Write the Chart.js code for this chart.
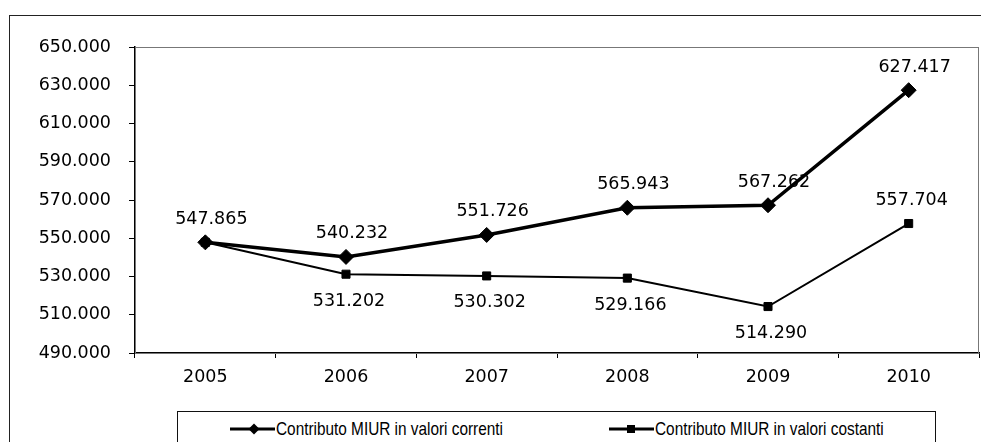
<!DOCTYPE html>
<html lang="it">
<head>
<meta charset="utf-8">
<title>Contributo MIUR 2005-2010</title>
<script src="https://cdn.jsdelivr.net/npm/chart.js@4/dist/chart.umd.min.js"></script>
<style>
  html, body { margin: 0; padding: 0; background: #fff; }
  body { width: 981px; height: 442px; position: relative; overflow: hidden; }
  #cornice {
    position: absolute; left: 9px; top: 15px; width: 1000px; height: 500px;
    border-top: 1.5px solid #222; border-left: 1.5px solid #222;
  }
  #grafico { position: absolute; left: 0; top: 0; }
  #legenda {
    position: absolute; left: 177px; top: 411px; width: 757px; height: 60px;
    border: 1px solid #111; background: #fff;
    font-family: 'Liberation Sans Narrow', 'Arial Narrow', 'Liberation Sans', Arial, sans-serif;
    font-size: 18.5px; color: #000;
  }
  .voce { position: absolute; top: 6px; height: 22px; display: flex; align-items: center; white-space: nowrap; }
  .voce span { display: inline-block; transform: scaleX(0.83); transform-origin: 0 50%; margin-left: 1px; }
</style>
</head>
<body>
<div id="cornice"></div>
<canvas id="grafico" width="981" height="442"></canvas>
<div id="legenda">
  <div class="voce" style="left:52px">
    <svg width="45" height="16"><line x1="0" y1="8" x2="45" y2="8" stroke="#000" stroke-width="3"/><polygon points="24,2.5 29.5,8 24,13.5 18.5,8" fill="#000"/></svg>
    <span id="leg0"></span>
  </div>
  <div class="voce" style="left:431px">
    <svg width="45" height="16"><line x1="0" y1="8" x2="45" y2="8" stroke="#000" stroke-width="3"/><rect x="18" y="4" width="8" height="8" fill="#000"/></svg>
    <span id="leg1"></span>
  </div>
</div>
<script>
// dati
var anni = ['2005', '2006', '2007', '2008', '2009', '2010'];
var valoriCorrenti = [547865, 540232, 551726, 565943, 567262, 627417];
var valoriCostanti = [547865, 531202, 530302, 529166, 514290, 557704];
var nomiSerie = ['Contributo MIUR in valori correnti', 'Contributo MIUR in valori costanti'];
// posizione etichette: 'su', 'giu' o null (nascosta)
var posCorrenti = ['su', 'su', 'su', 'su', 'su', 'su'];
var posCostanti = [null, 'giu', 'giu', 'giu', 'giu', 'su'];
var asseMin = 490000, asseMax = 650000, assePasso = 20000;

var FONT = "'DejaVu Sans', Verdana, sans-serif";

function formatta(v) {
    return String(Math.round(v)).replace(/\B(?=(\d{3})+(?!\d))/g, '.');
}

document.getElementById('leg0').textContent = nomiSerie[0];
document.getElementById('leg1').textContent = nomiSerie[1];

// bordo grigio dell'area del tracciato
var bordoArea = {
    id: 'bordoArea',
    beforeDatasetsDraw: function (chart) {
        var a = chart.chartArea, ctx = chart.ctx;
        ctx.save();
        ctx.strokeStyle = '#777';
        ctx.lineWidth = 1;
        ctx.strokeRect(a.left + 0.5, a.top + 0.5, a.right - a.left - 1, a.bottom - a.top);
        ctx.restore();
    }
};

// etichette dei valori
var etichette = {
    id: 'etichette',
    afterDatasetsDraw: function (chart) {
        var ctx = chart.ctx;
        var posizioni = [posCorrenti, posCostanti];
        var spostaX = [6, 3];
        ctx.save();
        ctx.font = '17.5px ' + FONT;
        ctx.fillStyle = '#000';
        ctx.textAlign = 'center';
        ctx.textBaseline = 'middle';
        chart.data.datasets.forEach(function (ds, di) {
            var meta = chart.getDatasetMeta(di);
            meta.data.forEach(function (pt, i) {
                var p = posizioni[di][i];
                if (!p) return;
                var dy = p === 'su' ? -23 : 27;
                ctx.fillText(formatta(ds.data[i]), pt.x + spostaX[di], pt.y + dy);
            });
        });
        ctx.restore();
    }
};

new Chart(document.getElementById('grafico'), {
    type: 'line',
    data: {
        labels: anni,
        datasets: [{
            label: nomiSerie[0],
            data: valoriCorrenti,
            borderColor: '#000',
            backgroundColor: '#000',
            borderWidth: 3.5,
            pointStyle: 'rectRot',
            pointRadius: 7.5,
            pointBorderWidth: 1,
            tension: 0
        }, {
            label: nomiSerie[1],
            data: valoriCostanti,
            borderColor: '#000',
            backgroundColor: '#000',
            borderWidth: 2,
            pointStyle: 'rect',
            pointRadius: 5.7,
            pointBorderWidth: 1,
            tension: 0
        }]
    },
    options: {
        responsive: false,
        animation: false,
        layout: { autoPadding: false, padding: { top: 47, right: 2, left: 0, bottom: 0 } },
        plugins: {
            legend: { display: false },
            tooltip: { enabled: false }
        },
        scales: {
            x: {
                offset: true,
                grid: { offset: true, drawOnChartArea: false, tickLength: 5, color: '#000' },
                border: { color: '#000', width: 1.5 },
                ticks: { color: '#000', padding: 9, font: { family: FONT, size: 17.5 } },
                afterFit: function (s) { s.height = 89; s.paddingLeft = 0; s.paddingRight = 0; }
            },
            y: {
                min: asseMin,
                max: asseMax,
                grid: { drawOnChartArea: false, tickLength: 6, color: '#000' },
                border: { color: '#000', width: 1.5 },
                ticks: {
                    stepSize: assePasso,
                    color: '#000',
                    padding: 18,
                    font: { family: FONT, size: 17.5 },
                    callback: function (v) { return formatta(v); }
                },
                afterFit: function (s) { s.width = 135; s.paddingTop = 0; s.paddingBottom = 0; }
            }
        }
    },
    plugins: [bordoArea, etichette]
});
</script>
</body>
</html>
